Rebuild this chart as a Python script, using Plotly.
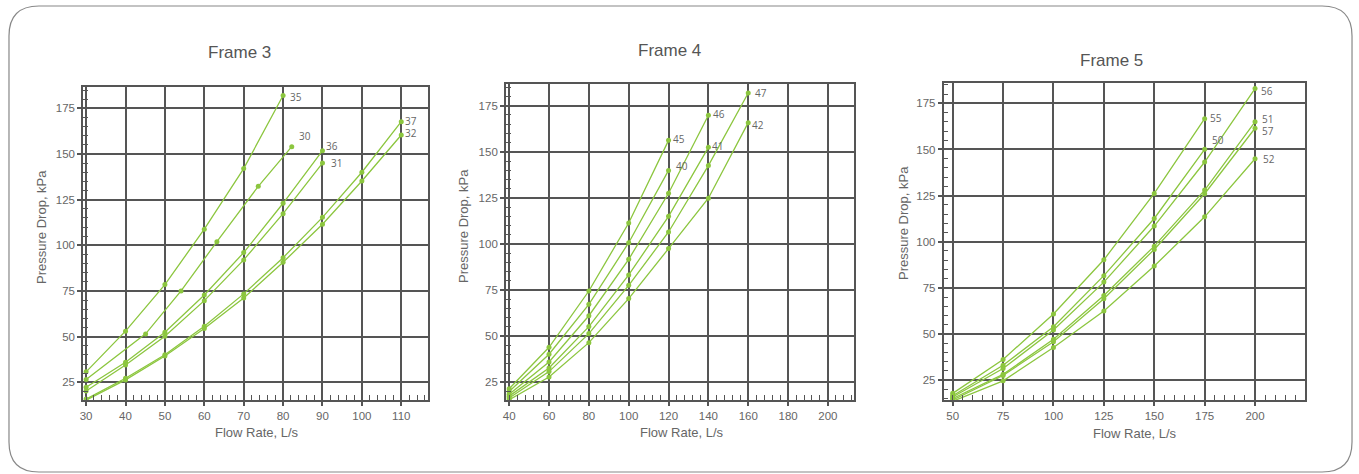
import plotly.graph_objects as go

# ---------------- data ----------------
# Frame 3
f3_names = ["35", "30", "36", "31", "37", "32"]
f3_x = [
    [30, 40, 50, 60, 70, 80],
    [30, 45.1, 54.1, 63.2, 73.7, 82.2],
    [30, 40, 50, 60, 70, 80, 90],
    [30, 40, 50, 60, 70, 80, 90],
    [30, 40, 50, 60, 70, 80, 90, 100, 110],
    [30, 40, 50, 60, 70, 80, 90, 100, 110],
]
f3_y = [
    [30.7, 53, 78.5, 108.8, 142, 182],
    [26.5, 51.5, 75, 102, 132.3, 154],
    [22.3, 36, 52.4, 72.8, 96, 123, 151.8],
    [20.2, 34.5, 50.2, 69.7, 92, 117.3, 145],
    [15.8, 27.2, 40.1, 55.7, 73.4, 93.2, 115.3, 140, 167.7],
    [15.2, 26.3, 39.4, 54.4, 71.2, 90.7, 111.5, 135.2, 160.4],
]
# Frame 4
f4_names = ["45", "40", "46", "41", "47", "42"]
f4_x = [
    [40, 60, 80, 100, 120],
    [40, 60, 80, 100, 120],
    [40, 60, 80, 100, 120, 140],
    [40, 60, 80, 100, 120, 140],
    [40, 60, 80, 100, 120, 140, 160],
    [40, 60, 80, 100, 120, 140, 160],
]
f4_y = [
    [21.5, 44, 74.5, 111.4, 156.2],
    [20, 40.2, 67.3, 100.7, 139.9],
    [18.5, 36, 61.1, 91.7, 127.5, 169.8],
    [17.5, 32.8, 55.2, 83.2, 115, 152.4],
    [16.5, 30.8, 51.4, 77.6, 106.5, 142.5, 181.9],
    [15.5, 27.9, 46.5, 70.4, 97.5, 124.8, 165.8],
]
# Frame 5
f5_names = ["55", "50", "56", "51", "57", "52"]
f5_x = [
    [50, 75, 100, 125, 150, 175],
    [50, 75, 100, 125, 150, 175],
    [50, 75, 100, 125, 150, 175, 200],
    [50, 75, 100, 125, 150, 175, 200],
    [50, 75, 100, 125, 150, 175, 200],
    [50, 75, 100, 125, 150, 175, 200],
]
f5_y = [
    [17.8, 36.2, 60.8, 90.2, 126.2, 166.7],
    [16.5, 33, 53.9, 81.6, 112.6, 150.1],
    [15.8, 31.3, 52.1, 78.1, 108.5, 143.2, 183],
    [15, 28.1, 47.1, 70.9, 97.6, 128, 165],
    [14.2, 27.5, 45.8, 69.1, 95.8, 126, 161.5],
    [13.5, 24.6, 42.7, 62.4, 86.8, 113.5, 145],
]

# label placement (data y of label, pixel x-shift from last point)
f3_lab_y = [181.4, 159.9, 154.4, 145, 168, 161.3]
f3_lab_dx = [5, 5, 2, 7, 2, 2]
f4_lab_y = [156.7, 142.3, 170.5, 153.1, 181.7, 164.5]
f4_lab_dx = [2, 5, 3, 2, 5, 2]
f5_lab_y = [166.9, 155.1, 181.7, 166.6, 159.8, 144.8]
f5_lab_dx = [3, 5, 4, 5, 5, 6]

titles = ["Frame 3", "Frame 4", "Frame 5"]
xlabel = "Flow Rate, L/s"
ylabel = "Pressure Drop, kPa"

# ---------------- style ----------------
W, H = 1359, 474
GREEN = "#8cc63f"
GRID = "#555555"
TXT = "#666666"
TICKFONT = dict(family="Arial, Liberation Sans", size=11.5, color=TXT)


def px_x(p):
    return p / W


def px_y(p):
    return 1 - p / H


panels = [
    dict(names=f3_names, xs=f3_x, ys=f3_y, ly=f3_lab_y, ldx=f3_lab_dx,
         dom=(80.3, 426, 87.3, 400), xr=[29.24, 116.8], yr=[15.3, 186.5],
         dt=10, mdt=2, title_pos=(237, 52), xt_pos=(255, 432), yt_pos=(38, 227)),
    dict(names=f4_names, xs=f4_x, ys=f4_y, ly=f4_lab_y, ldx=f4_lab_dx,
         dom=(504, 853.3, 84.3, 400), xr=[38.35, 213.3], yr=[15.4, 186.6],
         dt=20, mdt=4, title_pos=(668, 50), xt_pos=(681, 432), yt_pos=(462, 226)),
    dict(names=f5_names, xs=f5_x, ys=f5_y, ly=f5_lab_y, ldx=f5_lab_dx,
         dom=(942.7, 1304.5, 82.7, 400), xr=[45.5, 224.6], yr=[14.2, 186.2],
         dt=25, mdt=5, title_pos=(1111, 60), xt_pos=(1135, 433), yt_pos=(902, 223)),
]

fig = go.Figure()
annotations = []
layout_axes = {}

for i, p in enumerate(panels):
    n = "" if i == 0 else str(i + 1)
    xa, ya = "x" + n, "y" + n
    for name, xs, ys, ly, dx in zip(p["names"], p["xs"], p["ys"], p["ly"], p["ldx"]):
        fig.add_trace(go.Scatter(
            x=xs, y=ys, xaxis=xa, yaxis=ya, mode="lines+markers", name=name,
            line=dict(color=GREEN, width=1.3),
            marker=dict(color=GREEN, size=5, symbol="circle"),
            showlegend=False, cliponaxis=False))
        annotations.append(dict(
            x=xs[-1], y=ly, xref=xa, yref=ya, text=name, showarrow=False,
            xanchor="left", yanchor="middle", xshift=dx,
            font=dict(family="Open Sans", size=10, color=TXT)))
    x0, x1, y0, y1 = p["dom"]
    common = dict(showline=True, linecolor=GRID, linewidth=1.6, mirror=True,
                  showgrid=True, gridcolor=GRID, gridwidth=1.6, zeroline=False,
                  ticks="outside", ticklen=4, tickcolor=GRID, tickwidth=1.5,
                  tickfont=TICKFONT)
    layout_axes["xaxis" + n] = dict(
        domain=[px_x(x0), px_x(x1)], range=p["xr"], anchor=ya,
        tick0=0, dtick=p["dt"],
        minor=dict(ticks="inside", dtick=p["mdt"], tick0=0, ticklen=5,
                   tickcolor=GRID, tickwidth=1, showgrid=False),
        **common)
    layout_axes["yaxis" + n] = dict(
        domain=[px_y(y1), px_y(y0)], range=p["yr"], anchor=xa,
        tick0=0, dtick=25,
        minor=dict(ticks="inside", dtick=5, tick0=0, ticklen=5,
                   tickcolor=GRID, tickwidth=1, showgrid=False),
        **common)
    tx, ty = p["title_pos"]
    annotations.append(dict(x=px_x(tx), y=px_y(ty), xref="paper", yref="paper",
                            text=titles[i], showarrow=False,
                            xanchor="center", yanchor="middle",
                            font=dict(family="Arial, Liberation Sans", size=17, color="#555555")))
    tx, ty = p["xt_pos"]
    annotations.append(dict(x=px_x(tx), y=px_y(ty), xref="paper", yref="paper",
                            text=xlabel, showarrow=False,
                            xanchor="center", yanchor="middle",
                            font=dict(family="Arial, Liberation Sans", size=13, color=TXT)))
    tx, ty = p["yt_pos"]
    annotations.append(dict(x=px_x(tx), y=px_y(ty), xref="paper", yref="paper",
                            text=ylabel, showarrow=False, textangle=-90,
                            xanchor="center", yanchor="middle",
                            font=dict(family="Arial, Liberation Sans", size=13, color=TXT)))

# rounded outer frame
L, R, T, B, r = 6, 1352, 6, 472, 30
rx, ry = r / W, r / H
xl, xr_, yt, yb = px_x(L), px_x(R), px_y(T), px_y(B)
path = (f"M {xl+rx},{yt} L {xr_-rx},{yt} Q {xr_},{yt} {xr_},{yt-ry} "
        f"L {xr_},{yb+ry} Q {xr_},{yb} {xr_-rx},{yb} "
        f"L {xl+rx},{yb} Q {xl},{yb} {xl},{yb+ry} "
        f"L {xl},{yt-ry} Q {xl},{yt} {xl+rx},{yt} Z")

fig.update_layout(
    width=W, height=H, margin=dict(l=0, r=0, t=0, b=0),
    paper_bgcolor="white", plot_bgcolor="white",
    annotations=annotations, hovermode=False,
    shapes=[dict(type="path", path=path, xref="paper", yref="paper",
                 line=dict(color="#888888", width=1.2), layer="below")],
    **layout_axes)

fig.write_html(
    "out.html",
    config={"displayModeBar": False},
    post_script="document.body.style.margin='0';document.body.style.overflow='hidden';",
)
